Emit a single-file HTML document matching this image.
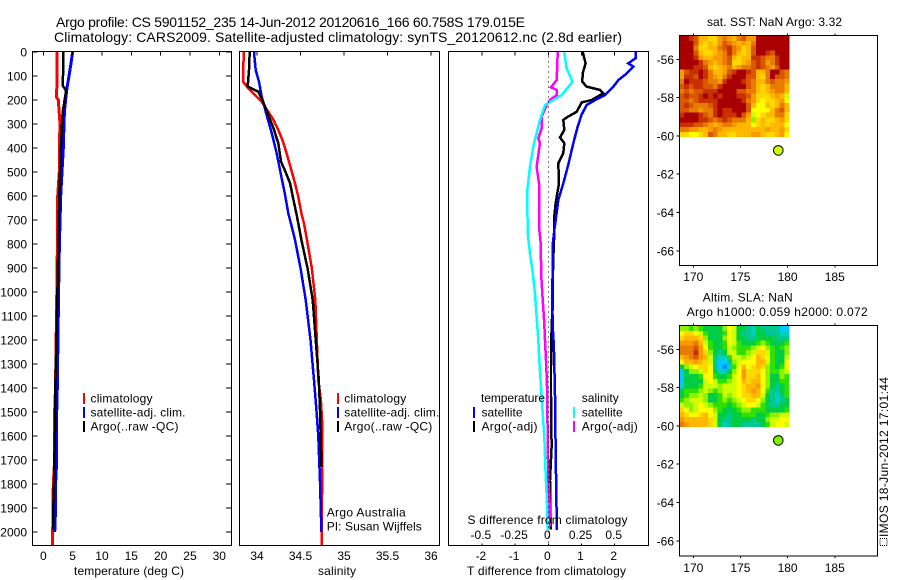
<!DOCTYPE html>
<html>
<head>
<meta charset="utf-8">
<title>Argo profile</title>
<style>
html,body{margin:0;padding:0;background:#fff;}
svg{display:block;}
text{font-family:"Liberation Sans",sans-serif;font-size:12px;fill:#000;}
.t14{font-size:14px;}
</style>
</head>
<body>
<svg id="chart" xmlns="http://www.w3.org/2000/svg" width="900" height="580" viewBox="0 0 900 580">
<rect x="0" y="0" width="900" height="580" fill="#fff"/>
<g id="panels"></g>
<text class="t14" x="56" y="27" textLength="469" lengthAdjust="spacing">Argo profile: CS 5901152_235 14-Jun-2012 20120616_166 60.758S 179.015E</text>
<text class="t14" x="54" y="42" textLength="568" lengthAdjust="spacing">Climatology: CARS2009. Satellite-adjusted climatology: synTS_20120612.nc (2.8d earlier)</text>

<text x="74" y="575" textLength="110" lengthAdjust="spacing">temperature (deg C)</text>
<text x="318" y="575" textLength="38" lengthAdjust="spacing">salinity</text>
<text x="467" y="575" textLength="159" lengthAdjust="spacing">T difference from climatology</text>
<text x="467.5" y="524" textLength="160" lengthAdjust="spacing">S difference from climatology</text>

<g>
<rect x="83" y="393" width="2" height="11" fill="#f00"/>
<rect x="83" y="407" width="2" height="11" fill="#00f"/>
<rect x="83" y="421" width="2" height="11" fill="#000"/>
<text x="90.5" y="402.5" textLength="62" lengthAdjust="spacing">climatology</text>
<text x="90.5" y="416.5" textLength="95" lengthAdjust="spacing">satellite-adj. clim.</text>
<text x="90.5" y="430.5" textLength="88" lengthAdjust="spacing">Argo(..raw -QC)</text>
</g>
<g>
<rect x="337" y="393" width="2" height="11" fill="#f00"/>
<rect x="337" y="407" width="2" height="11" fill="#00f"/>
<rect x="337" y="421" width="2" height="11" fill="#000"/>
<text x="344.3" y="402.5" textLength="62" lengthAdjust="spacing">climatology</text>
<text x="344.3" y="416.5" textLength="95" lengthAdjust="spacing">satellite-adj. clim.</text>
<text x="344.3" y="430.5" textLength="88" lengthAdjust="spacing">Argo(..raw -QC)</text>
</g>
<text x="326.7" y="516.7" textLength="79" lengthAdjust="spacing">Argo Australia</text>
<text x="326.7" y="530.7" textLength="95" lengthAdjust="spacing">PI: Susan Wijffels</text>

<g>
<text x="481" y="402" textLength="64" lengthAdjust="spacing">temperature</text>
<rect x="473" y="407" width="2" height="11" fill="#00f"/>
<rect x="473" y="421" width="2" height="11" fill="#000"/>
<text x="481.5" y="416.5" textLength="41" lengthAdjust="spacing">satellite</text>
<text x="481.5" y="430.5" textLength="56" lengthAdjust="spacing">Argo(-adj)</text>
<text x="581.7" y="402" textLength="37" lengthAdjust="spacing">salinity</text>
<rect x="573" y="407" width="2" height="11" fill="#0ff"/>
<rect x="573" y="421" width="2" height="11" fill="#f0f"/>
<text x="581.7" y="416.5" textLength="41" lengthAdjust="spacing">satellite</text>
<text x="581.7" y="430.5" textLength="56" lengthAdjust="spacing">Argo(-adj)</text>
</g>

<text x="707" y="26" textLength="135" lengthAdjust="spacing">sat. SST: NaN Argo: 3.32</text>
<text x="702.7" y="301.5" textLength="90" lengthAdjust="spacing">Altim. SLA: NaN</text>
<text x="686.7" y="316" textLength="181" lengthAdjust="spacing">Argo h1000: 0.059 h2000: 0.072</text>

<rect x="880" y="538.5" width="7" height="7" fill="none" stroke="#000" stroke-width="1" stroke-dasharray="1 1" shape-rendering="crispEdges"/>
<text transform="translate(888,537) rotate(-90)" textLength="160" lengthAdjust="spacing">IMOS 18-Jun-2012 17:01:44</text>
</svg>

<script>
// ---- temperature panel data ----
const climTempDepth = [0,190,200,300,400,500,600,800,1000,1400,1500,1700,1800,2000,2054];
const climTempValue = [2.33,2.28,2.56,2.85,2.73,2.73,2.45,2.4,2.3,2.08,1.92,1.92,1.7,1.6,1.6];
const satTempDepth = [0,50,100,150,200,250,300,400,500,600,800,1000,1400,1500,1700,1800,1900,2000];
const satTempValue = [5.0,4.7,4.38,4.04,3.8,3.6,3.53,3.41,3.19,2.96,2.75,2.6,2.39,2.28,2.28,2.1,2.1,1.94];
const argoTempDepth = [0,70,140,160,175,250,300,400,500,600,800,1000,1400,1500,1700,1800,1900,1990];
const argoTempValue = [3.41,3.4,3.3,3.87,3.8,3.3,3.19,3.0,2.85,2.73,2.55,2.4,2.05,2.08,1.88,1.83,1.7,1.65];
const tempTickLabels = [0,5,10,15,20,25,30];
const depthTickLabels = [0,100,200,300,400,500,600,700,800,900,1000,1100,1200,1300,1400,1500,1600,1700,1800,1900,2000];

// ---- salinity panel data ----
const climSalDepth = [0,75,124,151,179,207,249,283,325,374,422,485,547,603,672,714,783,900,1033,1367,1450,1554,2054];
const climSalValue = [33.85,33.84,33.84,33.9,33.977,34.054,34.13,34.19,34.245,34.3,34.34,34.39,34.437,34.475,34.51,34.54,34.575,34.63,34.67,34.705,34.735,34.75,34.745];
const satSalDepth = [0,75,124,186,262,339,422,492,589,672,755,783,900,1033,1200,1367,1500,1600,1800,2000];
const satSalValue = [33.966,33.985,34.023,34.054,34.11,34.17,34.226,34.264,34.32,34.36,34.418,34.437,34.5,34.56,34.615,34.655,34.685,34.705,34.725,34.74];
const argoSalDepth = [0,75,144,165,207,262,318,380,457,492,547,617,679,783,900,1033,1367,1500,1730];
const argoSalValue = [33.916,33.908,33.893,34.015,34.07,34.13,34.19,34.245,34.276,34.32,34.38,34.42,34.456,34.51,34.58,34.64,34.71,34.725,34.74];
const salTickLabels = [34,34.5,35,35.5,36];

// ---- difference panel data ----
const satTDiffDepth = [0,26,47,61,89,117,144,179,193,221,262,311,380,471,547,617,672,742,797,894,1061,1158,1228,1311,1394,1644,1922,1992];
const satTDiffValue = [2.63,2.63,2.41,2.56,2.36,2.11,1.96,1.71,1.51,1.155,1.0,0.885,0.753,0.6,0.452,0.3,0.25,0.18,0.14,0.13,0.12,0.14,0.17,0.18,0.2,0.22,0.25,0.25];
const argoTDiffDepth = [0,47,89,124,144,158,172,200,210,249,269,283,325,356,380,422,464,547,631,686,755,825,922,1047,1144,1311,1436,1644,1783,1964,1990];
const argoTDiffValue = [1.035,1.125,1.035,1.025,1.155,1.557,1.657,1.306,1.005,0.854,0.6,0.452,0.482,0.352,0.482,0.452,0.301,0.322,0.22,0.18,0.18,0.16,0.14,0.14,0.1,0.08,0.08,0.1,0.05,0.07,0.07];
const argoSDiffDepth = [0,117,147,158,179,200,221,269,318,360,380,478,547,728,797,936,1033,1117,1200,1311,1394,1575,1783,1880,1978];
const argoSDiffValue = [0.0705,0.063,0.02,0.063,0.063,0.013,-0.012,-0.05,-0.05,-0.075,-0.0625,-0.088,-0.07,-0.07,-0.057,-0.053,-0.042,-0.032,-0.025,-0.015,-0.01,-0.005,0,0.01,0.015];
const satSDiffDepth = [0,68,124,179,221,283,394,478,575,617,755,839,908,1006,1103,1200,1311,1394,1505,1603,1755,1880,1992];
const satSDiffValue = [0.12,0.138,0.183,0.1,-0.025,-0.0625,-0.113,-0.138,-0.158,-0.158,-0.155,-0.138,-0.12,-0.1,-0.088,-0.075,-0.065,-0.055,-0.042,-0.03,-0.02,-0.01,-0.005];
const tDiffTickLabels = [-2,-1,0,1,2];
const sDiffTickValues = [-0.5,-0.25,0,0.25,0.5];

// ---- map data (rows north to south, columns west to east, colour level 0-15) ----
const lonTickLabels = [170,175,180,185];
const latTickLabels = [-56,-58,-60,-62,-64,-66];
const argoLon = [179.015];
const argoLat = [-60.758];
const sstGrid = [
[15,15,14,13,10,10,9,9,11,12,11,10,12,13,11,11,15,15,15,15,15,15,15],
[15,15,15,13,10,9,10,9,11,13,12,11,10,11,10,12,15,15,15,15,15,15,15],
[15,15,15,12,9,9,10,10,12,13,14,12,11,9,10,13,15,15,15,15,15,15,15],
[15,15,15,13,10,9,9,10,11,12,14,12,10,9,10,13,15,15,14,13,15,15,15],
[15,15,15,14,11,10,10,11,11,12,13,10,9,10,10,14,14,13,12,12,14,15,15],
[15,15,15,15,14,12,11,10,11,12,13,9,9,10,11,13,14,13,11,12,14,15,15],
[15,15,15,14,14,13,10,9,10,11,12,10,11,12,12,13,14,13,12,11,13,15,15],
[11,13,14,14,15,14,12,10,10,11,13,14,15,15,14,13,10,10,12,15,15,13,12],
[11,14,14,13,15,14,12,11,10,12,14,15,15,15,13,13,10,9,12,15,13,13,12],
[12,15,14,14,14,13,12,12,11,14,15,15,15,14,13,12,10,10,12,13,12,12,11],
[13,14,13,14,14,13,13,12,14,15,15,15,15,15,13,12,10,9,10,12,12,12,10],
[12,13,12,13,13,14,14,14,15,15,15,15,13,13,12,12,10,9,10,11,12,12,10],
[13,14,13,13,14,15,14,15,14,15,15,15,14,14,13,11,9,9,9,10,11,10,7],
[13,13,12,13,14,14,14,14,15,15,15,15,15,14,12,11,9,8,9,9,10,11,8],
[13,14,13,12,12,12,13,14,15,15,15,15,15,15,13,10,8,8,10,9,10,12,10],
[13,13,12,12,11,12,12,14,15,14,14,15,15,15,13,8,8,8,8,10,12,13,10],
[14,15,15,15,14,13,12,14,15,14,14,14,15,13,11,7,8,9,10,10,12,12,9],
[15,15,15,15,14,14,13,12,13,14,13,12,12,12,10,6,9,10,9,9,10,11,9],
[14,14,14,13,13,12,11,10,11,12,12,11,10,10,10,8,9,10,9,10,10,10,8],
[12,12,11,11,10,10,11,12,11,10,10,10,10,10,10,10,10,10,11,10,10,11,9],
[9,9,8,8,9,10,13,12,10,10,9,9,10,10,10,11,11,10,9,9,10,11,8]
];
const slaGrid = [
[6,6,5,6,5,4,4,4,4,6,8,7,4,4,3,2,4,3,3,3,3,1,1],
[8,9,9,8,7,5,4,4,4,5,8,7,4,3,3,2,4,4,3,3,3,2,2],
[9,10,10,10,9,6,4,4,4,6,8,7,4,4,3,3,4,4,4,4,3,3,3],
[11,11,11,12,10,7,5,4,4,5,8,7,5,4,4,4,5,6,5,4,4,4,5],
[12,12,12,13,11,8,5,4,4,5,7,6,5,5,5,6,7,8,6,5,4,5,6],
[12,12,12,14,11,9,6,4,3,4,7,7,5,5,6,7,9,9,7,5,4,4,6],
[10,11,12,13,11,10,7,3,2,2,5,7,7,6,7,8,10,9,8,5,4,4,7],
[8,10,10,11,10,9,7,3,1,1,3,6,7,8,8,8,10,10,7,5,4,4,8],
[4,6,7,8,9,9,8,3,1,0,2,5,8,10,8,9,10,9,6,5,4,5,8],
[1,4,6,6,7,9,8,4,2,2,4,6,8,11,9,9,9,8,6,5,5,6,7],
[1,4,4,4,5,8,8,5,4,4,5,7,8,11,9,9,10,8,6,4,4,6,5],
[1,4,4,4,4,7,8,7,5,5,6,7,8,10,9,10,10,8,6,4,4,5,5],
[1,4,4,4,5,7,7,7,6,7,7,7,8,9,10,10,11,8,6,4,3,4,5],
[4,5,5,5,6,7,6,5,6,7,7,7,8,9,10,11,10,8,5,3,3,4,5],
[4,5,6,6,7,6,4,4,5,7,6,7,8,9,9,10,10,7,4,3,2,3,5],
[5,6,7,7,7,6,4,4,5,6,5,6,7,8,9,9,8,6,4,3,2,3,4],
[7,6,6,7,8,7,6,5,5,5,4,5,6,7,8,8,7,5,4,3,3,4,4],
[9,8,6,7,8,8,8,6,5,4,4,4,5,6,6,5,5,5,4,4,4,4,5],
[10,9,8,8,9,10,8,7,4,4,3,4,4,5,5,5,4,4,5,6,6,7,7],
[11,10,10,10,10,10,9,7,4,3,3,4,4,4,4,3,4,4,6,7,7,8,8],
[12,11,10,10,10,10,9,7,4,2,3,4,4,3,3,3,3,4,5,7,8,8,7]
];

// ---- rendering ----
const NS = 'http://www.w3.org/2000/svg';
const root = document.getElementById('panels');
const palette = ['#0090ff','#00c8ff','#00d0c0','#00c890','#00cc44','#30e000','#90f000','#ccff00','#ffff00','#ffd800','#ffb800','#f89a00','#e87c00','#d85800','#c83000','#a80000'];

function make(tag, attrs, parent) {
  const e = document.createElementNS(NS, tag);
  for (const k in attrs) e.setAttribute(k, attrs[k]);
  (parent || root).appendChild(e);
  return e;
}
function tickMark(x1, y1, x2, y2, parent) {
  const e = make('line', {x1, y1, x2, y2, stroke: '#000', 'stroke-width': 1, 'shape-rendering': 'crispEdges'}, parent);
  
  
}
function label(str, x, y, anchor, parent) {
  const e = make('text', {x, y, 'text-anchor': anchor}, parent);
  e.textContent = str;
  
  
}
function frame(x, y, w, h, name) {
  const e = make('rect', {x, y, width: w, height: h, fill: 'none', stroke: '#000', 'stroke-width': 1, 'shape-rendering': 'crispEdges'});
  
  
}
function series(depths, values, xf, color, name, width) {
  const pts = depths.map((d, i) => xf(values[i]).toFixed(1) + ',' + yDepth(d).toFixed(1)).join(' ');
  const e = make('polyline', {points: pts, fill: 'none', stroke: color, 'stroke-width': width || 2, 'shape-rendering': 'crispEdges'});
  
  
}

const yDepth = d => 52 + 0.24 * d;
const xTemp = v => 43.3 + 5.867 * v;
const xSal = v => 257 + 87 * (v - 34);
const xTDiff = v => 548.3 + 33.2 * v;
const xSDiff = v => 548.3 + 132.8 * v;
const PTOP = 51.5, PBOT = 545.5;

// temperature panel
series(climTempDepth, climTempValue, xTemp, '#f00', 'temperature-climatology-line', 3);
series(satTempDepth, satTempValue, xTemp, '#00f', 'temperature-satellite-line', 3);
series(argoTempDepth, argoTempValue, xTemp, '#000', 'temperature-argo-line', 2.5);
frame(32.5, PTOP, 199, PBOT - PTOP, 'temperature-panel-frame');
tempTickLabels.forEach(v => {
  tickMark(xTemp(v), PTOP, xTemp(v), PTOP + 4);
  label(String(v), xTemp(v), 560, 'middle');
});
depthTickLabels.forEach(d => {
  const y = yDepth(d);
  tickMark(32.5, y, 37.5, y);
  tickMark(226, y, 231.5, y);
  label(String(d), 27, y + 4.5, 'end');
});

// salinity panel
series(climSalDepth, climSalValue, xSal, '#f00', 'salinity-climatology-line', 2.5);
series(satSalDepth, satSalValue, xSal, '#00f', 'salinity-satellite-line', 2.5);
series(argoSalDepth, argoSalValue, xSal, '#000', 'salinity-argo-line', 2.5);
frame(239.5, PTOP, 200, PBOT - PTOP, 'salinity-panel-frame');
salTickLabels.forEach(v => {
  tickMark(xSal(v), PTOP, xSal(v), PTOP + 4);
  label(String(v), xSal(v), 560, 'middle');
});

// difference panel
series(argoTDiffDepth, argoTDiffValue, xTDiff, '#000', 't-difference-argo-line', 2.5);
series(satTDiffDepth, satTDiffValue, xTDiff, '#00f', 't-difference-satellite-line', 2.5);
series(argoSDiffDepth, argoSDiffValue, xSDiff, '#f0f', 's-difference-argo-line', 2.5);
series(satSDiffDepth, satSDiffValue, xSDiff, '#0ff', 's-difference-satellite-line', 2.5);
const zeroLine = make('line', {x1: xTDiff(0), y1: PTOP, x2: xTDiff(0), y2: PBOT, stroke: '#000', 'stroke-width': 1, 'stroke-dasharray': '1 4', 'shape-rendering': 'crispEdges'});


frame(448.5, PTOP, 200, PBOT - PTOP, 'difference-panel-frame');
tDiffTickLabels.forEach(v => {
  tickMark(xTDiff(v), PTOP, xTDiff(v), PTOP + 4);
  tickMark(xTDiff(v), PBOT - 2, xTDiff(v), PBOT);
  label(String(v), xTDiff(v) - 1, 560, 'middle');
});
sDiffTickValues.forEach(v => {
  label(String(v), xSDiff(v) - 1, 539, 'middle');
});

// maps
function drawMap(top, bottom, grid, dotColor, name, lat56Y, tickY) {
  const g = make('g', {});
  
  
  const xLon = lon => 693.3 + 9.43 * (lon - 170);
  const yLat = lat => lat56Y + 19.15 * (-56 - lat);
  const cellLon = 0.5067, cellLat = 0.25, lon0 = 168.52, lat0 = -54.79;
  grid.forEach((row, r) => {
    row.forEach((v, c) => {
      const x0 = xLon(lon0 + c * cellLon), x1 = xLon(lon0 + (c + 1) * cellLon);
      const y0 = yLat(lat0 - r * cellLat), y1 = yLat(lat0 - (r + 1) * cellLat);
      const cell = make('rect', {x: x0.toFixed(2), y: y0.toFixed(2), width: (x1 - x0 + 0.3).toFixed(2), height: (y1 - y0 + 0.3).toFixed(2), fill: palette[v], 'shape-rendering': 'crispEdges'}, g);
      
      
    });
  });
  frame(679.5, top, 198, bottom - top, name + '-frame');
  lonTickLabels.forEach(v => {
    tickMark(xLon(v), top - 2, xLon(v), top, g);
    tickMark(xLon(v), bottom, xLon(v), bottom + 2, g);
    label(String(v), xLon(v), tickY, 'middle', g);
  });
  latTickLabels.forEach(v => {
    tickMark(676.5, yLat(v), 679.5, yLat(v), g);
    label(String(v), 674, yLat(v) + 4.5, 'end', g);
  });
  const dot = make('circle', {cx: xLon(argoLon[0]), cy: yLat(argoLat[0]), r: 4.8, fill: dotColor, stroke: '#000', 'stroke-width': 1}, g);
  
  
}
drawMap(35.5, 265.5, sstGrid, '#ccff00', 'sst-map', 59.3, 281);
drawMap(325.5, 556, slaGrid, '#80f000', 'sla-map', 349.3, 572);
</script>
</body>
</html>
